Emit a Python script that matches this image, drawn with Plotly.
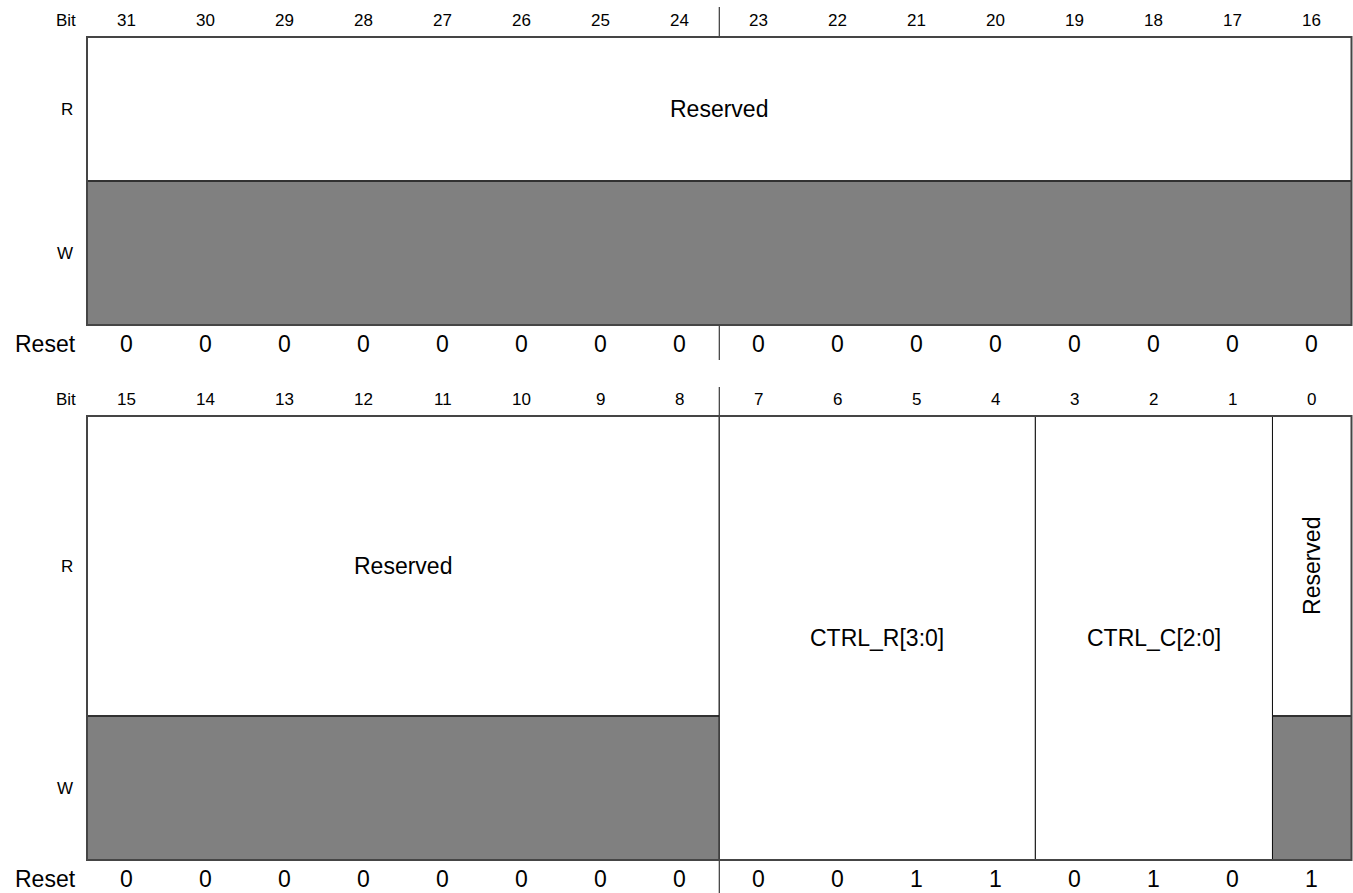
import plotly.graph_objects as go

# ---------------- data ----------------
ROW_BIT = "Bit"
ROW_READ = "R"
ROW_WRITE = "W"
ROW_RESET = "Reset"

hi_bits = [31, 30, 29, 28, 27, 26, 25, 24, 23, 22, 21, 20, 19, 18, 17, 16]
hi_reset = [0, 0, 0, 0, 0, 0, 0, 0, 0, 0, 0, 0, 0, 0, 0, 0]
hi_field_names = ["Reserved"]
hi_field_msb = [31]
hi_field_lsb = [16]
hi_field_access = ["r"]

lo_bits = [15, 14, 13, 12, 11, 10, 9, 8, 7, 6, 5, 4, 3, 2, 1, 0]
lo_reset = [0, 0, 0, 0, 0, 0, 0, 0, 0, 0, 1, 1, 0, 1, 0, 1]
lo_field_names = ["Reserved", "CTRL_R[3:0]", "CTRL_C[2:0]", "Reserved"]
lo_field_msb = [15, 7, 3, 0]
lo_field_lsb = [8, 4, 1, 0]
lo_field_access = ["r", "rw", "rw", "r"]

# ---------------- style / layout ----------------
PAGE_W, PAGE_H = 1353, 893
W, H = PAGE_W, PAGE_H
BOX_LEFT_PX, BOX_RIGHT_PX = 87, 1351.5
BITW = (BOX_RIGHT_PX - BOX_LEFT_PX) / 16.0
X0 = -BOX_LEFT_PX / BITW
X1 = X0 + W / BITW

FONT = "Liberation Sans, Arial, Helvetica, sans-serif"
GREY = "#808080"
BORDER = "#454545"
DIV = "#111111"

SZ_BIT = 17
SZ_RW = 17
SZ_RESET = 23
SZ_FIELD = 23

registers = [
    dict(bits=hi_bits, reset=hi_reset, names=hi_field_names, msb=hi_field_msb,
         lsb=hi_field_lsb, acc=hi_field_access,
         bit_y=20, div_top=7, top=37, split=181, bottom=325, reset_y=344, div_bot=360),
    dict(bits=lo_bits, reset=lo_reset, names=lo_field_names, msb=lo_field_msb,
         lsb=lo_field_lsb, acc=lo_field_access,
         bit_y=399.5, div_top=387, top=416, split=716, bottom=860, reset_y=878.5, div_bot=893),
]

fig = go.Figure()
shapes = []
annotations = []


def ann(x, y, text, size, xanchor="center", angle=0):
    annotations.append(dict(x=x, y=y, xref="x", yref="y", text=text, showarrow=False,
                            xanchor=xanchor, yanchor="middle", textangle=angle,
                            font=dict(family=FONT, size=size, color="#000000")))


label_x = -9.0 / BITW  # right edge of row labels

for reg in registers:
    bits = reg["bits"]
    top_bit = bits[0]
    # row labels
    ann(label_x, reg["bit_y"], ROW_BIT, SZ_BIT, xanchor="right")
    ann(label_x - 3.0 / BITW, (reg["top"] + reg["split"]) / 2, ROW_READ, SZ_RW, xanchor="right")
    ann(label_x - 3.0 / BITW, (reg["split"] + reg["bottom"]) / 2, ROW_WRITE, SZ_RW, xanchor="right")
    ann(label_x, reg["reset_y"], ROW_RESET, SZ_RESET, xanchor="right")
    # bit numbers and reset values
    for i, (b, r) in enumerate(zip(bits, reg["reset"])):
        ann(i + 0.5, reg["bit_y"], str(b), SZ_BIT)
        ann(i + 0.5, reg["reset_y"], str(r), SZ_RESET)
    # byte divider (between column 7 and 8)
    shapes.append(dict(type="line", xref="x", yref="y", x0=8, x1=8, y0=reg["div_top"], y1=reg["top"],
                       line=dict(color=DIV, width=1)))
    shapes.append(dict(type="line", xref="x", yref="y", x0=8, x1=8, y0=reg["bottom"], y1=reg["div_bot"],
                       line=dict(color=DIV, width=1)))
    # fields
    for name, msb, lsb, acc in zip(reg["names"], reg["msb"], reg["lsb"], reg["acc"]):
        c0 = top_bit - msb
        c1 = top_bit - lsb + 1
        if acc == "rw":
            shapes.append(dict(type="rect", xref="x", yref="y", x0=c0, x1=c1, y0=reg["top"], y1=reg["bottom"],
                               fillcolor="white", line=dict(color=DIV, width=1)))
            ann((c0 + c1) / 2, (reg["top"] + reg["bottom"]) / 2, name, SZ_FIELD)
        else:
            shapes.append(dict(type="rect", xref="x", yref="y", x0=c0, x1=c1, y0=reg["top"], y1=reg["split"],
                               fillcolor="white", line=dict(color=DIV, width=1)))
            shapes.append(dict(type="rect", xref="x", yref="y", x0=c0, x1=c1, y0=reg["split"], y1=reg["bottom"],
                               fillcolor=GREY, line=dict(color=DIV, width=1)))
            shapes.append(dict(type="line", xref="x", yref="y", x0=c0, x1=c1, y0=reg["split"], y1=reg["split"],
                               line=dict(color="#2a2a2a", width=1.6)))
            ann((c0 + c1) / 2, (reg["top"] + reg["split"]) / 2, name, SZ_FIELD,
                angle=-90 if c1 - c0 == 1 else 0)
    # outer border
    shapes.append(dict(type="rect", xref="x", yref="y", x0=0, x1=16, y0=reg["top"], y1=reg["bottom"],
                       fillcolor="rgba(0,0,0,0)", line=dict(color=BORDER, width=2)))

fig.update_layout(
    width=W, height=H,
    margin=dict(l=0, r=0, t=0, b=0),
    paper_bgcolor="white", plot_bgcolor="white",
    showlegend=False,
    xaxis=dict(range=[X0, X1], visible=False, fixedrange=True),
    yaxis=dict(range=[PAGE_H, 0], visible=False, fixedrange=True),
    shapes=shapes,
    annotations=annotations,
)

fig.write_html(
    "out.html",
    config={"displayModeBar": False},
    post_script="document.body.style.margin='0';document.body.style.overflow='hidden';",
)
